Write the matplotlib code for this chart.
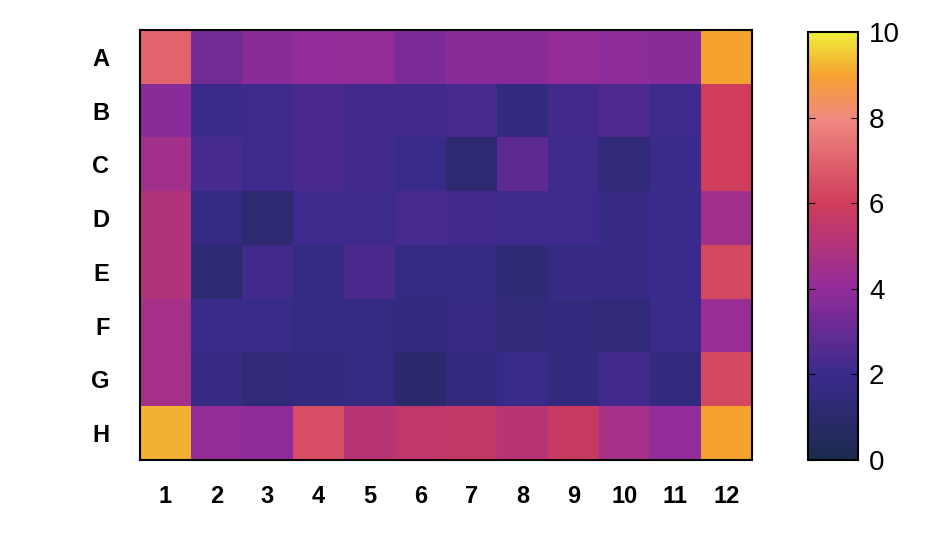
import matplotlib
matplotlib.use("Agg")
import matplotlib.pyplot as plt
import numpy as np
from matplotlib.colors import LinearSegmentedColormap

rows = list("ABCDEFGH")
cols = [str(i) for i in range(1, 13)]
A = [7.0,3.3,3.8,4.0,4.1,3.5,3.8,3.8,4.1,3.9,3.8,9.0]
B = [3.8,2.0,2.1,2.4,2.2,2.2,2.3,1.5,2.2,2.5,2.1,6.0]
C = [4.5,2.3,2.1,2.4,2.2,1.9,1.2,2.8,2.1,1.4,2.0,6.0]
D = [5.0,1.7,1.2,2.1,2.1,2.3,2.2,2.1,2.1,1.8,2.0,4.5]
E = [5.0,1.1,2.2,1.7,2.4,1.7,1.7,1.3,1.8,1.8,2.0,6.3]
F = [4.6,1.9,1.9,1.7,1.7,1.6,1.8,1.4,1.5,1.4,2.0,4.2]
G = [4.6,1.8,1.4,1.5,1.7,1.0,1.6,1.9,1.5,2.2,1.5,6.3]
H = [9.2,4.1,3.9,6.5,5.2,5.5,5.6,5.2,5.8,4.6,4.0,9.0]
data = np.array([A, B, C, D, E, F, G, H])

cmap = LinearSegmentedColormap.from_list("c", [
    (0.0, "#1c2a4e"), (0.2, "#3a2a8c"), (0.4, "#922c9a"),
    (0.6, "#d03c5c"), (0.8, "#f08a80"), (0.9, "#f5a030"), (1.0, "#eef03a")])

fig = plt.figure(figsize=(9.5, 5.36), dpi=100)
ax = fig.add_axes([140/950, 1-460/536, 612/950, 430/536])
im = ax.imshow(data, cmap=cmap, vmin=0, vmax=10, aspect="auto")
ax.set_xticks(range(12)); ax.set_xticklabels(cols)
ax.set_yticks(range(8)); ax.set_yticklabels(rows)
ax.tick_params(axis="y", length=0, pad=22)
ax.tick_params(axis="x", length=0, pad=18)
for t in ax.get_xticklabels() + ax.get_yticklabels():
    t.set_fontfamily("Liberation Sans"); t.set_fontweight("bold"); t.set_fontsize(17)
for s in ax.spines.values():
    s.set_linewidth(1.5)

cax = fig.add_axes([808/950, 1-460/536, 50/950, 428/536])
cb = fig.colorbar(im, cax=cax, ticks=[0, 2, 4, 6, 8, 10])
cb.ax.tick_params(direction="in", length=5, labelsize=20, left=True, right=True, pad=8)
for t in cb.ax.get_yticklabels():
    t.set_fontfamily("Liberation Sans")
cb.outline.set_linewidth(1.5)
fig.savefig("out.png", dpi=100)
